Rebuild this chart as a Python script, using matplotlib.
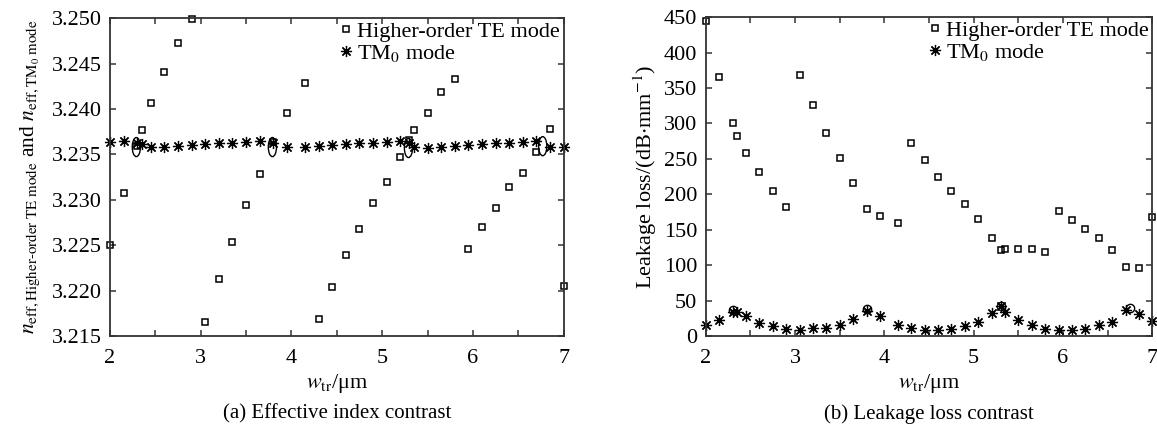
import matplotlib as mpl
mpl.use('Agg')
from matplotlib import pyplot as plt
from matplotlib.patches import Ellipse
from matplotlib.ticker import MultipleLocator, FormatStrFormatter

plt.rcParams['font.family'] = ['Liberation Serif', 'DejaVu Serif']
plt.rcParams['mathtext.fontset'] = 'stix'

# transition waveguide width (um), same for both panels
w_tr = [2.00, 2.15, 2.30, 2.35, 2.45, 2.60, 2.75, 2.90, 3.05, 3.20, 3.35, 3.50,
        3.65, 3.80, 3.95, 4.15, 4.30, 4.45, 4.60, 4.75, 4.90, 5.05, 5.20, 5.30,
        5.35, 5.50, 5.65, 5.80, 5.95, 6.10, 6.25, 6.40, 6.55, 6.70, 6.85, 7.00]

# (a) effective index
n_te = [3.2250, 3.2308, 3.2359, 3.2377, 3.2407, 3.2441, 3.2473, 3.2499, 3.2165,
        3.2213, 3.2254, 3.2294, 3.2328, 3.2364, 3.2396, 3.2429, 3.2169, 3.2204,
        3.2239, 3.2268, 3.2296, 3.2320, 3.2347, 3.2366, 3.2377, 3.2395, 3.2419,
        3.2433, 3.2246, 3.2270, 3.2291, 3.2314, 3.2330, 3.2353, 3.2378, 3.2205]
n_tm = [3.2364, 3.2365, 3.2362, 3.2361, 3.2358, 3.2358, 3.2359, 3.2360, 3.2361,
        3.2362, 3.2363, 3.2364, 3.2365, 3.2363, 3.2358, 3.2358, 3.2359, 3.2360,
        3.2361, 3.2362, 3.2363, 3.2364, 3.2365, 3.2362, 3.2358, 3.2357, 3.2358,
        3.2359, 3.2360, 3.2361, 3.2362, 3.2363, 3.2364, 3.2365, 3.2358, 3.2358]

# (b) leakage loss (dB/mm)
loss_te = [445, 366, 300, 283, 258, 231, 205, 182, 368, 326, 287, 251, 216, 180,
           170, 159, 273, 248, 225, 205, 186, 165, 139, 122, 123, 123, 123, 118,
           176, 164, 151, 139, 122, 98, 96, 168]
loss_tm = [16, 23, 34, 34, 28, 19, 14, 10, 9, 11, 12, 16, 24, 36, 28, 16, 12, 8,
           9, 10, 14, 20, 32, 42, 34, 22, 15, 10, 9, 8, 10, 15, 20, 37, 31, 21]

# crossing points marked in the figure
cross_a_x = [2.29, 3.79, 5.29, 6.77]
cross_a_y = [3.2358, 3.2358, 3.2357, 3.2359]
cross_b_x = [2.31, 3.80, 5.31, 6.75]
cross_b_y = [37, 38, 43, 40]

axcol = '#333333'
fs = 16

fig = plt.figure(figsize=(11.57, 4.41), dpi=100)
ax1 = fig.add_axes([0.0951, 0.238, 0.392, 0.721])
ax2 = fig.add_axes([0.610, 0.238, 0.386, 0.723])

sq = dict(linestyle='', marker='s', markersize=5, markerfacecolor='none',
          markeredgecolor='black', markeredgewidth=1.1, clip_on=False)
st = dict(linestyle='', marker=(8, 2, 0), markersize=8, color='black',
          markeredgewidth=0.9, clip_on=False)

ax1.plot(w_tr, n_te, label='Higher-order TE mode', **sq)
ax1.plot(w_tr, n_tm, label='TM$_0$ mode', **st)
for cx, cy in zip(cross_a_x, cross_a_y):
  ax1.add_patch(Ellipse((cx, cy), 0.09, 0.0021, fill=False, edgecolor='black', linewidth=1.0))
ax1.set_xlim(2, 7)
ax1.set_ylim(3.215, 3.250)
ax1.yaxis.set_major_locator(MultipleLocator(0.005))
ax1.yaxis.set_major_formatter(FormatStrFormatter('%.3f'))
ax1.set_ylabel(r'$n_{\mathrm{eff,Higher}\text{-}\mathrm{order\ TE\ mode}}$ and $n_{\mathrm{eff,TM_0\ mode}}$',
               fontsize=15.5, labelpad=7)

ax2.plot(w_tr, loss_te, label='Higher-order TE mode', **sq)
ax2.plot(w_tr, loss_tm, label='TM$_0$ mode', **st)
ax2.plot(cross_b_x, cross_b_y, linestyle='', marker='o', markersize=6,
         markerfacecolor='none', markeredgecolor='black', markeredgewidth=1.0)
ax2.set_xlim(2, 7)
ax2.set_ylim(0, 450)
ax2.yaxis.set_major_locator(MultipleLocator(50))
ax2.set_ylabel(r'Leakage loss/(dB$\cdot$mm$^{-1}$)', fontsize=fs, labelpad=4)

for ax in [ax1, ax2]:
  ax.xaxis.set_major_locator(MultipleLocator(1))
  ax.xaxis.set_minor_locator(MultipleLocator(0.5))
  ax.tick_params(which='both', direction='in', top=True, right=True, length=4,
                 width=1.1, color=axcol, labelsize=fs, pad=6)
  ax.tick_params(axis='x', pad=9)
  for s in ax.spines.values():
    s.set_color(axcol)
    s.set_linewidth(1.3)
  ax.set_xlabel(r'$w_{\mathrm{tr}}$/μm', fontsize=fs, labelpad=3)
  ax.legend(loc='upper right', frameon=False, fontsize=fs, handlelength=0.7,
            handletextpad=0.15, labelspacing=0.05, borderaxespad=0.1,
            borderpad=0.05, markerscale=1.0)

fig.text(0.0951 + 0.392/2, 0.05, '(a) Effective index contrast', fontsize=15, ha='center')
fig.text(0.610 + 0.386/2, 0.05, '(b) Leakage loss contrast', fontsize=15, ha='center')

plt.savefig('out.png', dpi=100)
